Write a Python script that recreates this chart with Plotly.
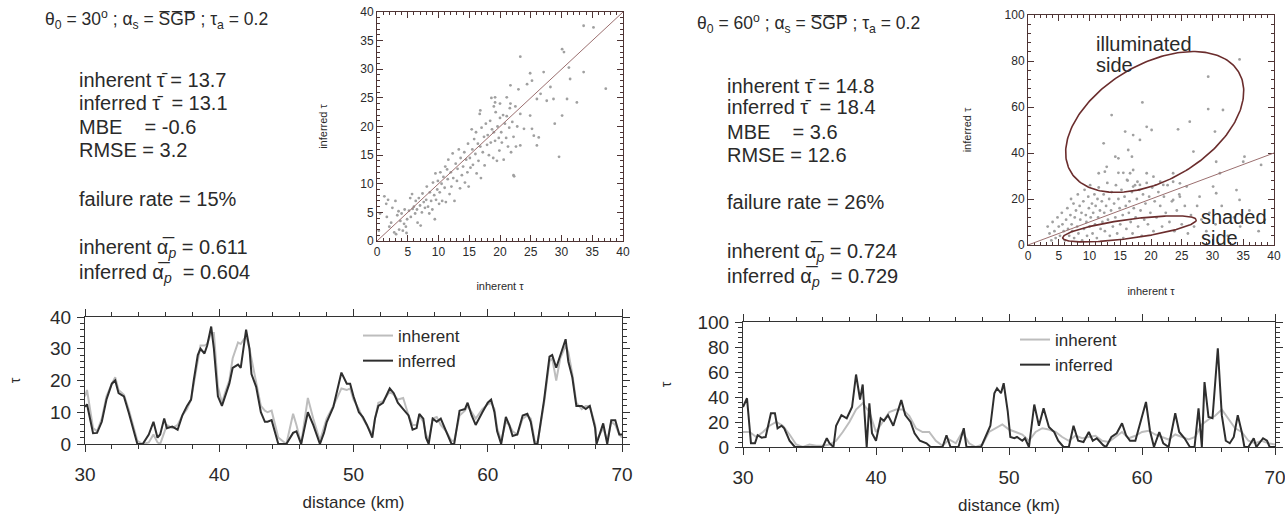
import numpy as np
import plotly.graph_objects as go

W, H = 1285, 521
FONT = "Liberation Sans, Arial, Helvetica, sans-serif"
FRAME = "#4e3434"
TXT = "#2a2a2a"

# ---------------- scatter data (inherent tau, inferred tau) ----------------
scatter30_pts = [
    (0.3, 1.8), (0.5, 4.8), (1.2, 7.8), (1.5, 6.5), (1.8, 7.2), (1.6, 4.2), (2.0, 2.5), (2.3, 3.2),
    (2.5, 5.8), (2.8, 1.5), (3.0, 7.0), (3.1, 1.2), (3.3, 4.5), (3.5, 5.2), (3.6, 2.0), (3.8, 3.5),
    (4.0, 4.8), (4.2, 1.8), (4.4, 3.0), (4.5, 5.5), (4.7, 2.5), (4.8, 1.4), (4.9, 3.8),
    (5.2, 5.3), (5.4, 7.5), (5.5, 4.2), (5.7, 8.2), (5.8, 5.6), (6.0, 6.0), (6.2, 4.8), (6.3, 7.0),
    (6.5, 5.5), (6.6, 3.2), (6.8, 7.5), (7.0, 6.2), (7.1, 2.7), (7.3, 5.0), (7.4, 8.3), (7.6, 6.8),
    (7.8, 5.8), (8.0, 7.2), (8.1, 9.5), (8.3, 6.0), (8.5, 4.8), (8.6, 8.5), (8.8, 7.0), (9.0, 5.5),
    (9.1, 10.2), (9.3, 8.0), (9.4, 3.8), (9.5, 11.8), (9.6, 7.2), (9.8, 9.0), (9.9, 10.5),
    (10.1, 6.5), (10.2, 8.5), (10.3, 12.0), (10.5, 10.0), (10.6, 7.0), (10.8, 11.2), (11.0, 9.3),
    (11.1, 13.0), (11.2, 6.8), (11.4, 12.5), (11.5, 10.8), (11.6, 14.2), (11.8, 8.2), (12.0, 12.0),
    (12.1, 9.5), (12.3, 15.3), (12.4, 11.0), (12.6, 7.0), (12.8, 13.5), (13.0, 10.5), (13.1, 12.6),
    (13.3, 16.0), (13.5, 9.2), (13.6, 14.5), (13.8, 11.5), (14.0, 13.0), (14.2, 15.5), (14.3, 10.2),
    (14.5, 14.2), (14.7, 12.0), (14.8, 17.0), (14.9, 9.5),
    (15.1, 14.5), (15.2, 12.8), (15.4, 19.5), (15.5, 16.0), (15.6, 13.3), (15.8, 17.8), (16.0, 15.2),
    (16.1, 19.0), (16.2, 11.8), (16.4, 17.0), (16.5, 14.0), (16.7, 22.2), (16.8, 16.5), (16.9, 11.0),
    (17.0, 19.8), (17.2, 15.5), (17.4, 18.2), (17.5, 13.2), (17.7, 20.5), (17.9, 16.8), (18.0, 18.5),
    (18.2, 15.0), (18.4, 21.0), (18.5, 17.2), (18.7, 19.5), (18.9, 14.5), (19.0, 19.0), (19.2, 17.5),
    (19.3, 22.5), (19.5, 14.0), (19.6, 20.0), (19.8, 18.0), (19.9, 15.8), (18.6, 25.0), (19.0, 23.5),
    (20.0, 21.5), (20.2, 19.0), (20.3, 17.2), (20.5, 22.0), (20.6, 14.2), (20.8, 20.5), (21.0, 18.0),
    (21.1, 21.8), (21.3, 16.5), (21.5, 19.8), (21.6, 23.2), (21.8, 15.5), (22.0, 20.8), (22.2, 18.2),
    (22.3, 11.3), (22.5, 23.5), (22.6, 16.5), (22.8, 20.0), (23.0, 26.5),
    (33.6, 37.6), (35.2, 37.3), (30.1, 33.5), (30.4, 33.0), (23.3, 32.2), (31.2, 30.3), (31.4, 28.3),
    (33.6, 29.5), (37.2, 26.6), (24.9, 29.3), (25.2, 28.0), (24.4, 27.4), (21.7, 27.2), (27.1, 29.5),
    (28.2, 26.9), (26.6, 25.7), (26.0, 24.8), (28.7, 24.8), (27.6, 24.5), (30.9, 24.8), (32.5, 24.2),
    (30.1, 21.9), (28.9, 20.5), (24.9, 21.9), (23.3, 22.2), (23.9, 19.6), (25.2, 19.6), (25.5, 18.4),
    (26.3, 18.1), (26.0, 16.7), (23.3, 16.7), (29.6, 14.7), (22.2, 11.5), (19.2, 25.1), (19.2, 24.2),
    (20.0, 24.0), (21.1, 25.1), (21.7, 24.0), (16.8, 22.8),
]

scatter60_pts = [
    (34.4, 80.7), (29.3, 73.2), (31.7, 58.7), (29.3, 59.1), (18.6, 62.0), (13.6, 56.5), (26.3, 53.6),
    (19.3, 51.4), (24.4, 50.3), (15.8, 49.3), (17.1, 47.8), (20.1, 50.0), (12.3, 44.2), (18.2, 45.7),
    (26.9, 40.6), (30.4, 49.3), (16.3, 41.3), (14.7, 37.7), (14.2, 38.4), (16.9, 38.4), (12.8, 34.0),
    (11.5, 31.2), (12.5, 31.9), (14.7, 31.4), (15.5, 31.4), (16.6, 31.2), (17.1, 32.6), (16.1, 28.3),
    (17.8, 27.5), (18.2, 26.1), (17.1, 25.4), (19.3, 31.2), (20.4, 29.7), (21.5, 27.5), (22.0, 26.1),
    (23.6, 27.5), (24.7, 26.8), (23.6, 31.2), (30.6, 36.2), (35.0, 36.2), (37.9, 34.8), (35.2, 38.4),
    (31.2, 31.2), (30.1, 25.4), (30.6, 22.5), (33.9, 23.9), (34.4, 19.6), (27.9, 21.0), (25.8, 25.4),
    (24.7, 21.0), (23.6, 19.6),
    (3.2, 8), (3.5, 5), (3.8, 2), (4.0, 10), (4.3, 6), (4.5, 3), (4.8, 12), (5.0, 8), (5.2, 4),
    (5.5, 14), (5.6, 9), (5.8, 6), (6.0, 2), (6.2, 11), (6.4, 16), (6.5, 7), (6.7, 4), (6.9, 13),
    (7.0, 20), (7.1, 9), (7.2, 6),
    (7.4, 18), (7.5, 3), (7.6, 12), (7.8, 15), (8.0, 8), (8.1, 22), (8.2, 5), (8.4, 17), (8.5, 11),
    (8.7, 14), (8.8, 2), (9.0, 19), (9.1, 7), (9.2, 24), (9.4, 13), (9.5, 10), (9.6, 4), (9.8, 21),
    (9.9, 16), (10.0, 8), (10.1, 26), (10.2, 12), (10.4, 18), (10.5, 5), (10.6, 14), (10.8, 22),
    (10.9, 9), (11.0, 17), (11.2, 3), (11.3, 20), (11.4, 12), (11.5, 25), (11.7, 15), (11.8, 7),
    (12.0, 19), (12.1, 10),
    (12.3, 22), (12.4, 14), (12.5, 6), (12.7, 17), (12.9, 27), (13.0, 11), (13.2, 20), (13.3, 4),
    (13.5, 15), (13.6, 23), (13.8, 8), (14.0, 18), (14.2, 12), (14.3, 26), (14.5, 5), (14.7, 20),
    (14.9, 16), (15.0, 9), (15.2, 24), (15.4, 13), (15.5, 3), (15.7, 21), (15.9, 17), (16.0, 7),
    (16.2, 28), (16.4, 14), (16.5, 19), (16.7, 10), (16.9, 23), (17.0, 5), (17.2, 16), (17.4, 26),
    (17.5, 12), (17.7, 20), (17.9, 8),
    (18.1, 24), (18.3, 15), (18.5, 4), (18.7, 22), (18.9, 11), (19.1, 18), (19.3, 27), (19.5, 9),
    (19.7, 21), (19.9, 14), (20.2, 25), (20.4, 6), (20.6, 19), (20.9, 12), (21.2, 23), (21.5, 17),
    (21.8, 8), (22.1, 21), (22.4, 14), (22.7, 26), (23.0, 10), (23.4, 19), (23.8, 6), (24.2, 15),
    (24.6, 22), (25.0, 9), (25.5, 17), (26.0, 5), (26.5, 13),
    (27.0, 8), (27.5, 17), (28.2, 11), (29.0, 6), (29.5, 14), (30.5, 9), (31.5, 17), (32.5, 4),
    (33.5, 12), (34.5, 8), (36.0, 15), (37.5, 6), (38.5, 11),
]

# ---------------- transect data (distance km, tau) ----------------
dist30 = [30.0, 30.15, 30.6, 30.9, 31.25, 31.6, 32.0, 32.25, 32.5, 32.9,
          33.25, 33.6, 33.9, 34.3, 34.75, 35.1, 35.4, 35.6, 35.9, 36.1,
          36.5, 36.9, 37.25, 37.6, 37.9, 38.1, 38.4, 38.6, 38.9, 39.1,
          39.4, 39.6, 39.9, 40.2, 40.5, 40.75, 41.0, 41.4, 41.6, 42.0,
          42.25, 42.4, 42.75, 43.1, 43.4, 43.6, 43.9, 44.4, 45.0, 45.5,
          45.75, 46.1, 46.6, 47.0, 47.5, 47.8, 48.0, 48.5, 49.1, 49.5,
          49.75, 50.0, 50.4, 50.7, 51.0, 51.4, 51.6, 51.85, 52.2, 52.7,
          53.0, 53.3, 53.7, 54.1, 54.4, 54.7, 54.9, 55.2, 55.4, 55.6,
          55.9, 56.2, 56.5, 56.9, 57.3, 57.5, 57.9, 58.3, 58.5, 58.8,
          59.1, 59.6, 60.0, 60.25, 60.5, 60.7, 61.0, 61.35, 61.6, 61.85,
          62.2, 62.6, 62.95, 63.2, 63.5, 63.7, 64.2, 64.6, 64.8, 65.1,
          65.4, 65.8, 66.0, 66.3, 66.6, 67.0, 67.3, 67.6, 68.0, 68.1,
          68.6, 68.9, 69.2, 69.5, 69.8, 70.0]
inferred30 = [11.7, 12.5, 3.4, 3.5, 7, 14, 19, 20, 16, 15,
              10, 5, 0, 0, 3, 7, 2, 3, 8, 5,
              5.5, 4.5, 9, 12, 14, 20, 28, 30, 28.5, 31,
              37, 30, 15, 12, 16, 19, 24, 25, 24, 36,
              30, 22, 18, 10, 7, 7, 7.5, 0, 0, 3.5,
              4, 0, 10, 6, 0, 3.5, 6.8, 11.7, 22.5, 19,
              19, 15, 10, 8.5, 6, 2, 8, 12, 13, 17.5,
              16, 13, 11, 9, 4.5, 5, 9.5, 8, 2, 0,
              8, 7, 8, 4, 0, 0, 10.5, 11, 13, 9,
              6, 10, 13, 14, 10, 4, 0, 8.5, 6, 2.5,
              3, 9, 9.5, 7, 0, 0, 14, 27.5, 28, 24,
              28, 33, 26, 21, 12, 12, 11, 12, 5, 0,
              6.5, 0, 7.5, 7.5, 3, 3]
inherent30 = [15, 17, 5, 4, 8, 15, 19, 21, 17, 15.5,
              11, 6, 1, 0, 0.5, 3, 0.5, 0, 4, 6,
              5, 6, 9, 11, 14, 19, 27, 31, 31, 31.5,
              35, 35, 18, 13, 17, 20, 27, 32, 31.5, 34,
              30, 27, 20, 12, 10.5, 10, 10.5, 2, 0, 9.5,
              6, 0, 14.5, 8, 1, 5, 8, 12, 17.5, 17,
              17.5, 14, 11, 8, 6, 3, 8, 13, 13.5, 16.5,
              15.5, 14, 14.5, 9, 6, 6, 9, 7, 3, 1,
              8, 8.5, 6, 4, 1, 1, 9, 10.5, 12, 10,
              8, 11, 12.5, 13, 11, 5, 1, 7, 6, 4,
              3, 8, 9, 8, 1, 0, 13, 26, 27, 20,
              27, 31, 29, 22, 13, 11, 12, 12, 6, 1,
              5, 1, 7, 6, 3, 2]

dist60_inf = [30.0, 30.3, 30.6, 30.9, 31.1, 31.4, 31.7, 32.1, 32.4, 32.6,
              32.9, 33.1, 33.5, 33.9, 36.0, 36.3, 36.5, 36.8, 37.0, 37.4,
              37.8, 38.2, 38.5, 38.8, 39.0, 39.2, 39.3, 39.5, 39.7, 40.0,
              40.35, 40.6, 40.9, 41.3, 41.6, 41.9, 42.2, 42.6, 42.9, 43.3,
              43.8, 44.1, 45.0, 45.3, 45.6, 46.2, 46.6, 46.8, 47.9, 48.1,
              48.5, 48.6, 48.9, 49.1, 49.4, 49.6, 49.9, 50.1, 50.4, 50.6,
              51.0, 51.2, 51.5, 51.9, 52.25, 52.6, 53.0, 53.4, 53.7, 54.1,
              54.5, 54.85, 55.2, 55.6, 56.0, 56.3, 56.6, 57.1, 57.3, 57.7,
              58.1, 58.5, 58.8, 59.1, 59.5, 59.8, 60.3, 60.6, 60.9, 61.3,
              61.6, 62.0, 62.5, 62.8, 63.2, 63.6, 63.95, 64.25, 64.5, 64.7,
              65.0, 65.3, 65.7, 66.0, 66.3, 66.6, 66.9, 67.2, 67.5, 67.7,
              68.0, 68.4, 68.6, 69.1, 69.4, 69.6, 70.0]
inferred60 = [32, 39, 3, 3, 9.4, 7.5, 8, 27, 27, 15,
              17, 15, 5, 0, 0, 7, 3, 0, 17, 25.5,
              23, 32, 58, 38, 50, 17, 0, 35, 11, 5,
              23, 21, 25.5, 17, 27, 37.5, 25.5, 20, 11, 5,
              3, 0, 0, 9.4, 0, 0, 15, 0, 0, 5,
              15, 17, 43, 47, 43, 51, 29, 8, 7, 8,
              5, 7, 0, 34, 17, 31, 16, 12, 5, 0,
              0, 17, 5, 4, 12, 5, 7, 1.3, 0, 8,
              11, 19, 9.4, 5, 5, 17, 36, 13, 0, 12,
              3, 0, 27, 12, 7, 0, 0, 31, 0, 52,
              24, 23, 79, 25.5, 5, 3, 8, 25.5, 12, 0,
              0, 7, 0, 7, 5, 0, 0]

dist60_inh = [30.0, 30.5, 31.0, 31.5, 32.0, 32.5, 33.0, 33.5, 34.0, 34.5,
              35.0, 35.5, 36.0, 36.5, 37.0, 37.5, 38.0, 38.5, 39.0, 39.5,
              40.0, 40.5, 41.0, 41.5, 42.0, 42.5, 43.0, 43.5, 44.0, 44.5,
              45.0, 45.5, 46.0, 46.5, 47.0, 47.5, 48.0, 48.5, 49.0, 49.5,
              50.0, 50.5, 51.0, 51.5, 52.0, 52.5, 53.0, 53.5, 54.0, 54.5,
              55.0, 55.5, 56.0, 56.5, 57.0, 57.5, 58.0, 58.5, 59.0, 59.5,
              60.0, 60.5, 61.0, 61.5, 62.0, 62.5, 63.0, 63.5, 64.0, 64.5,
              65.0, 65.5, 66.0, 66.5, 67.0, 67.5, 68.0, 68.5, 69.0, 69.5, 70.0]
inherent60 = [12, 12, 8, 12, 17, 20, 17, 10, 2, 0,
              2, 1, 1, 2, 5, 12, 20, 30, 35, 28,
              12, 20, 28, 30, 30, 25, 15, 12, 12, 5,
              1, 6, 3, 12, 3, 0, 2, 12, 15, 18,
              14, 12, 10, 5, 12, 15, 14, 12, 8, 5,
              9, 7, 8, 9, 5, 4, 8, 12, 7, 9,
              12, 13, 10, 8, 6, 10, 8, 6, 8, 18,
              22, 25, 30, 22, 15, 12, 5, 3, 5, 3, 2]

# ---------------- text content ----------------
title30 = "θ<sub>0</sub> = 30<sup>o</sup> ; α<sub>s</sub> = S\u0305G\u0305P\u0305 ; τ<sub>a</sub> = 0.2"
title60 = "θ<sub>0</sub> = 60<sup>o</sup> ; α<sub>s</sub> = S\u0305G\u0305P\u0305 ; τ<sub>a</sub> = 0.2"
NB = "\u00a0"
stats30 = ["inherent τ\u0304 = 13.7", "inferred τ\u0304 " + NB + "= 13.1",
           "MBE" + NB * 4 + "= -0.6", "RMSE = 3.2", "failure rate = 15%",
           "inherent α\u0305<sub><i>p</i></sub> = 0.611", "inferred α\u0305<sub><i>p</i></sub> " + NB + "= 0.604"]
stats60 = ["inherent τ\u0304 = 14.8", "inferred τ\u0304 " + NB + "= 18.4",
           "MBE" + NB * 4 + "= 3.6", "RMSE = 12.6", "failure rate = 26%",
           "inherent α\u0305<sub><i>p</i></sub> = 0.724", "inferred α\u0305<sub><i>p</i></sub> " + NB + "= 0.729"]
region_labels = ["illuminated", "side", "shaded", "side"]


def px(x):
    return x / W


def py(y):
    return 1 - y / H


fig = go.Figure()

# scatter panels
s30x, s30y = zip(*scatter30_pts)
s60x, s60y = zip(*scatter60_pts)
fig.add_trace(go.Scatter(x=s30x, y=s30y, mode="markers", xaxis="x", yaxis="y",
                         marker=dict(size=2.8, color="#a0a0a0"), showlegend=False))
fig.add_trace(go.Scatter(x=s60x, y=s60y, mode="markers", xaxis="x2", yaxis="y2",
                         marker=dict(size=2.8, color="#a0a0a0"), showlegend=False))

# ellipses marking illuminated / shaded sides (pixel-space ellipse, converted to data units)
t = np.linspace(0, 2 * np.pi, 240)
sx, sy = 246 / 40.0, 230 / 100.0  # px per data unit in scatter 2


def ellipse(cx, cy, a, b, ang):
    ph = np.radians(ang)
    dx = a * np.cos(t) * np.cos(ph) - b * np.sin(t) * np.sin(ph)
    dy = a * np.cos(t) * np.sin(ph) + b * np.sin(t) * np.cos(ph)
    return cx + dx / sx, cy + dy / sy


ex, ey = ellipse(20.6, 53.5, 97.7, 57.8, 30.7)
fig.add_trace(go.Scatter(x=ex, y=ey, mode="lines", xaxis="x2", yaxis="y2",
                         line=dict(color="#6b2d2d", width=1.6), showlegend=False))
ex, ey = ellipse(16.5, 7.0, 67.4, 9.5, 7.7)
fig.add_trace(go.Scatter(x=ex, y=ey, mode="lines", xaxis="x2", yaxis="y2",
                         line=dict(color="#6b2d2d", width=1.6), showlegend=False))

# transect panels
fig.add_trace(go.Scatter(x=dist30, y=inherent30, mode="lines", xaxis="x3", yaxis="y3", name="inherent",
                         line=dict(color="#bdbdbd", width=2), legend="legend"))
fig.add_trace(go.Scatter(x=dist30, y=inferred30, mode="lines", xaxis="x3", yaxis="y3", name="inferred",
                         line=dict(color="#2e2e2e", width=2), legend="legend"))
fig.add_trace(go.Scatter(x=dist60_inh, y=inherent60, mode="lines", xaxis="x4", yaxis="y4", name="inherent",
                         line=dict(color="#bdbdbd", width=2), legend="legend2"))
fig.add_trace(go.Scatter(x=dist60_inf, y=inferred60, mode="lines", xaxis="x4", yaxis="y4", name="inferred",
                         line=dict(color="#2e2e2e", width=2), legend="legend2"))


def sc_axis(dom, anchor, rng, dtick, minor, title, standoff):
    return dict(domain=dom, anchor=anchor, range=rng, dtick=dtick, tick0=0, automargin=False,
                ticklabeloverflow="allow",
                showline=True, linecolor=FRAME, linewidth=1, mirror="allticks",
                ticks="inside", ticklen=6, tickcolor=FRAME, showgrid=False, zeroline=False,
                minor=dict(dtick=minor, ticks="inside", ticklen=3, tickcolor=FRAME, showgrid=False),
                tickfont=dict(size=12, color=TXT, family=FONT),
                title=dict(text=title, font=dict(size=11, color=TXT, family=FONT), standoff=standoff))


def ln_axis(dom, anchor, rng, dtick, minor, title, standoff, tfs, lstand):
    return dict(domain=dom, anchor=anchor, range=rng, dtick=dtick, automargin=False,
                ticklabeloverflow="allow",
                showline=True, linecolor="#333", linewidth=1.2, mirror="allticks",
                ticks="outside", ticklen=7, tickcolor="#333", showgrid=False, zeroline=False,
                ticklabelstandoff=lstand,
                minor=dict(dtick=minor, ticks="outside", ticklen=4, tickcolor="#333", showgrid=False),
                tickfont=dict(size=19, color=TXT, family=FONT),
                title=dict(text=title, font=dict(size=tfs, color=TXT, family=FONT), standoff=standoff))


fig.update_layout(
    template="none",
    width=W, height=H, margin=dict(l=0, r=0, t=0, b=0, autoexpand=False),
    paper_bgcolor="white", plot_bgcolor="white",
    font=dict(family=FONT, color=TXT),
    xaxis=sc_axis([px(377), px(623)], "y", [0, 40], 5, 1, "inherent τ", 23),
    yaxis=sc_axis([py(241), py(12)], "x", [0, 40], 5, 1, "inferred τ", 30),
    xaxis2=sc_axis([px(1028), px(1274)], "y2", [0, 40], 5, 1, "inherent τ", 24),
    yaxis2=sc_axis([py(245), py(15)], "x2", [0, 100], 20, 4, "inferred τ", 30),
    xaxis3=ln_axis([px(85), px(622)], "y3", [30, 70], 10, 2, "distance (km)", 12, 17, 6),
    yaxis3=ln_axis([py(444), py(317)], "x3", [0, 40], 10, 2, "τ", 26, 14, 2),
    xaxis4=ln_axis([px(743), px(1275)], "y4", [30, 70], 10, 2, "distance (km)", 12, 17, 6),
    yaxis4=ln_axis([py(447), py(322)], "x4", [0, 100], 20, 4, "τ", 22, 14, 2),
    legend=dict(x=px(358), y=py(318), xanchor="left", yanchor="top", bgcolor="rgba(0,0,0,0)",
                font=dict(size=17, color=TXT, family=FONT), tracegroupgap=0),
    legend2=dict(x=px(1015), y=py(322), xanchor="left", yanchor="top", bgcolor="rgba(0,0,0,0)",
                 font=dict(size=17, color=TXT, family=FONT), tracegroupgap=0),
)

# 1:1 reference lines in scatter panels
for xr, yr in (("x", "y"), ("x2", "y2")):
    fig.add_shape(type="line", xref=xr, yref=yr, x0=0, y0=0, x1=40, y1=40,
                  line=dict(color="#9b6f6f", width=1))

anns = []
anns.append(dict(x=px(43), y=py(20), text=title30, font=dict(size=17.5)))
anns.append(dict(x=px(695), y=py(24), text=title60, font=dict(size=17.5)))
rows30 = [80, 103, 127, 150, 199, 248, 273]
rows60 = [86, 107, 132, 155, 202, 253, 277]
for txt, yy in zip(stats30, rows30):
    anns.append(dict(x=px(77), y=py(yy), text=txt, font=dict(size=20)))
for txt, yy in zip(stats60, rows60):
    anns.append(dict(x=px(725), y=py(yy), text=txt, font=dict(size=20)))
for txt, (xx, yy) in zip(region_labels, [(1094, 44), (1094, 65), (1199, 217), (1199, 238)]):
    anns.append(dict(x=px(xx), y=py(yy), text=txt, font=dict(size=20)))
for a in anns:
    a.update(xref="paper", yref="paper", xanchor="left", yanchor="middle", showarrow=False, align="left")
    a["font"].update(color=TXT, family=FONT)
fig.update_layout(annotations=anns)

fig.write_html("out.html", config=dict(displayModeBar=False))
